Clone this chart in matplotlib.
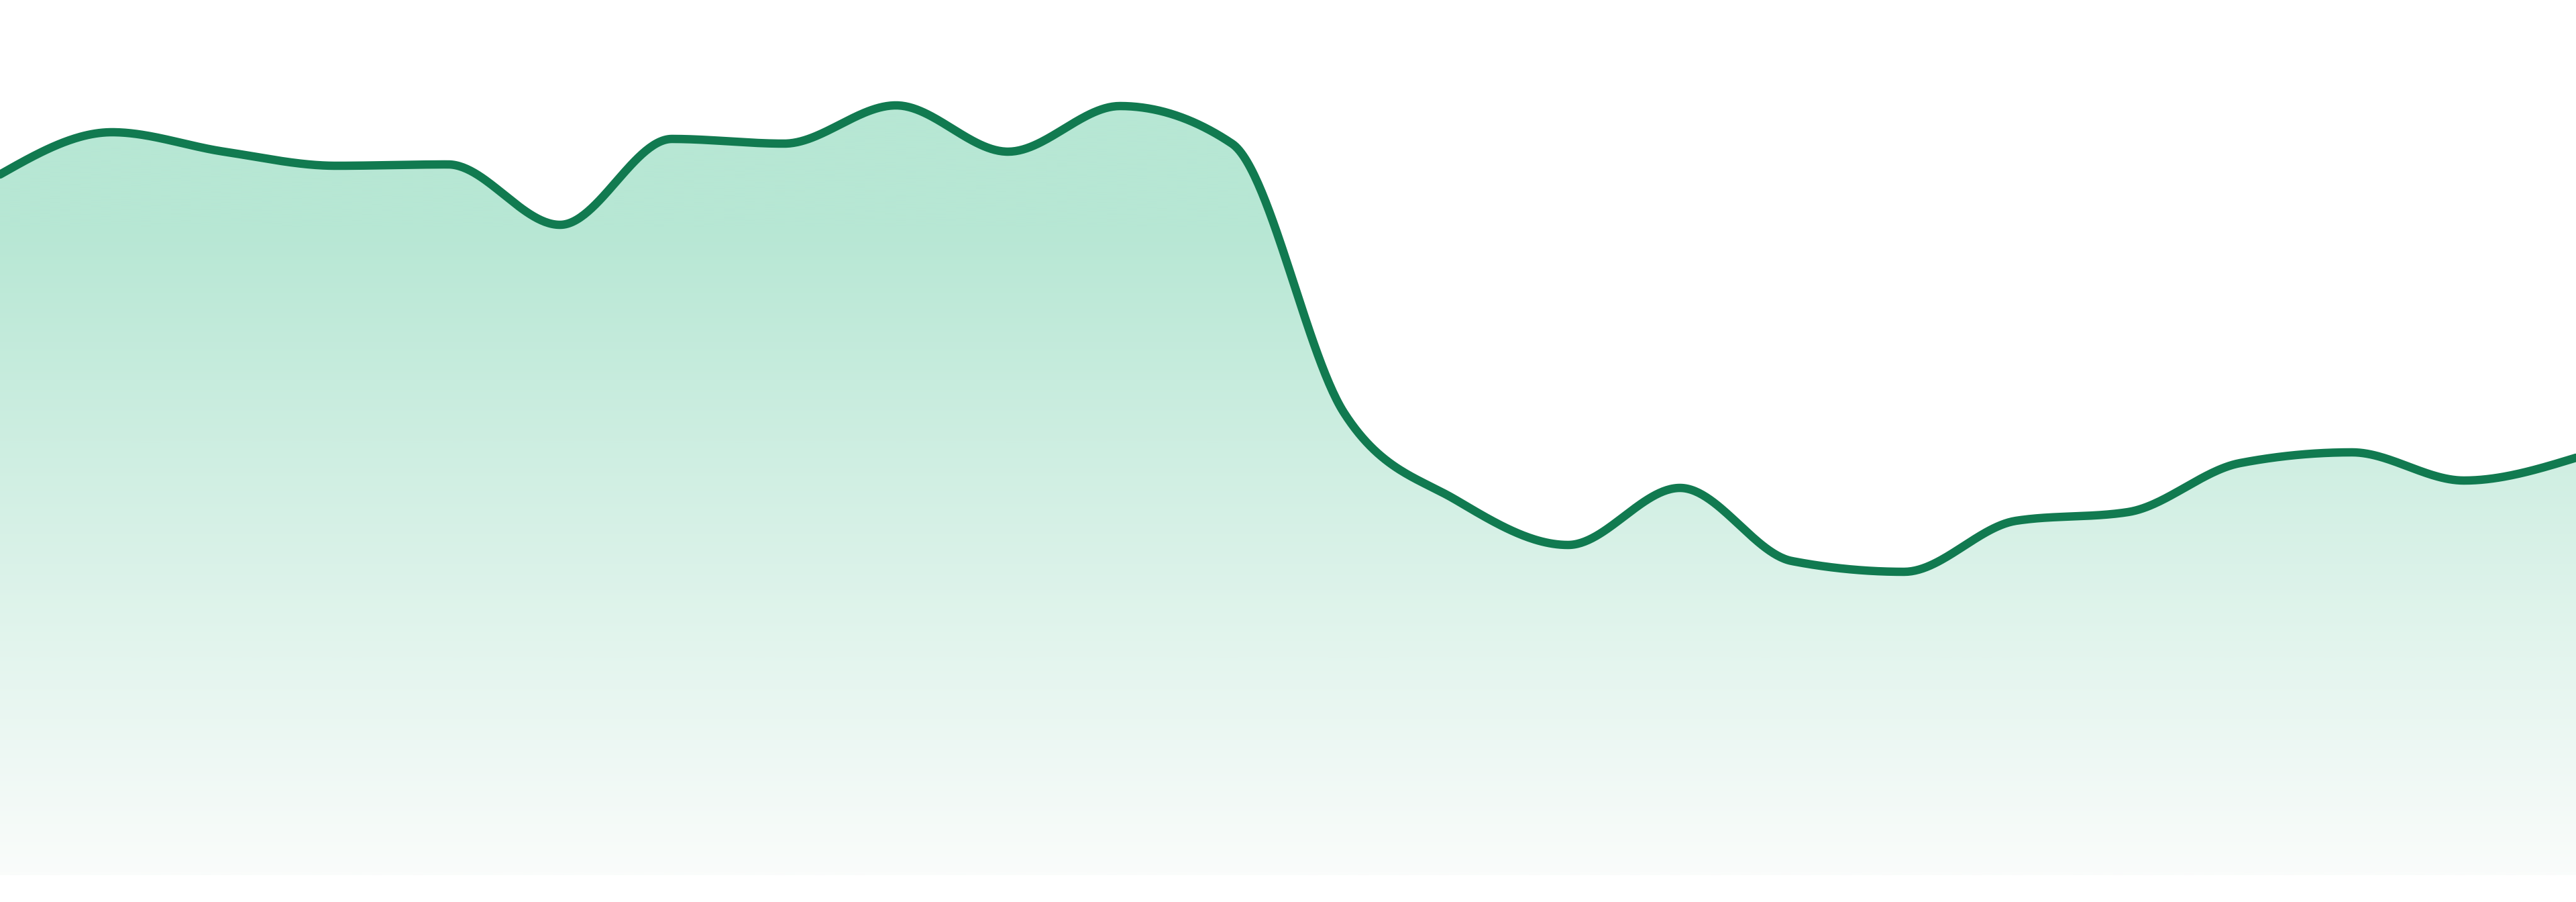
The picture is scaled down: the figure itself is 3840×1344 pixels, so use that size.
import numpy as np
import matplotlib
matplotlib.use("Agg")
import matplotlib.pyplot as plt
from matplotlib.patches import Polygon
from matplotlib.colors import LinearSegmentedColormap

# ---- data ----
periods = list(range(24))
values = [108.4, 114.7, 111.8, 109.7, 109.9, 100.9, 113.7, 113.0,
          118.7, 111.8, 118.6, 113.0, 72.9, 59.9, 53.2, 61.7,
          50.8, 49.2, 56.8, 58.1, 65.4, 67.0, 62.8, 66.2]

baseline = 4.0                # bottom edge of the filled area
line_color = "#117a50"
fill_top = "#b7e7d4"
fill_bottom = "#fafcfb"
y_max = 134.4
gradient_full_level = 101.0   # fill is at full tint above this level


def monotone_x(x, y, n=60):
    """d3.curveMonotoneX style interpolation (Steffen)."""
    x = np.asarray(x, float)
    y = np.asarray(y, float)
    m = len(x)
    h = np.diff(x)
    s = np.diff(y) / h
    t = np.zeros(m)
    for i in range(1, m - 1):
        h0, h1, s0, s1 = h[i - 1], h[i], s[i - 1], s[i]
        p = (s0 * h1 + s1 * h0) / (h0 + h1)
        t[i] = (np.sign(s0) + np.sign(s1)) * min(abs(s0), abs(s1), 0.5 * abs(p))
    t[0] = (3 * s[0] - t[1]) / 2
    t[-1] = (3 * s[-1] - t[-2]) / 2
    xs, ys = [], []
    for i in range(m - 1):
        u = np.linspace(0, 1, n, endpoint=(i == m - 2))
        hh = h[i]
        h00 = 2 * u**3 - 3 * u**2 + 1
        h10 = u**3 - 2 * u**2 + u
        h01 = -2 * u**3 + 3 * u**2
        h11 = u**3 - u**2
        xs.append(x[i] + u * hh)
        ys.append(h00 * y[i] + h10 * hh * t[i] + h01 * y[i + 1] + h11 * hh * t[i + 1])
    return np.concatenate(xs), np.concatenate(ys)


fig = plt.figure(figsize=(38.4, 13.44), dpi=100)
ax = fig.add_axes([0, 0, 1, 1])
ax.set_xlim(periods[0], periods[-1])
ax.set_ylim(0, y_max)
ax.axis("off")

xs, ys = monotone_x(periods, values)

# gradient fill under the curve
poly_pts = np.vstack([np.column_stack([xs, ys]),
                      [[xs[-1], baseline], [xs[0], baseline]]])
patch = Polygon(poly_pts, closed=True, facecolor="none", edgecolor="none")
ax.add_patch(patch)
cmap = LinearSegmentedColormap.from_list("g", [fill_bottom, fill_top])
top = max(values) + 2
levels = np.linspace(baseline, top, 1024)
grad = np.clip((levels - baseline) / (gradient_full_level - baseline), 0, 1).reshape(-1, 1)
im = ax.imshow(grad, cmap=cmap, vmin=0, vmax=1, aspect="auto", origin="lower",
               extent=[periods[0], periods[-1], baseline, top],
               interpolation="bilinear", zorder=1)
im.set_clip_path(patch)

ax.plot(xs, ys, color=line_color, lw=9.0, solid_capstyle="round",
        solid_joinstyle="round", zorder=2)

fig.savefig("out.png", dpi=100, facecolor="white")
